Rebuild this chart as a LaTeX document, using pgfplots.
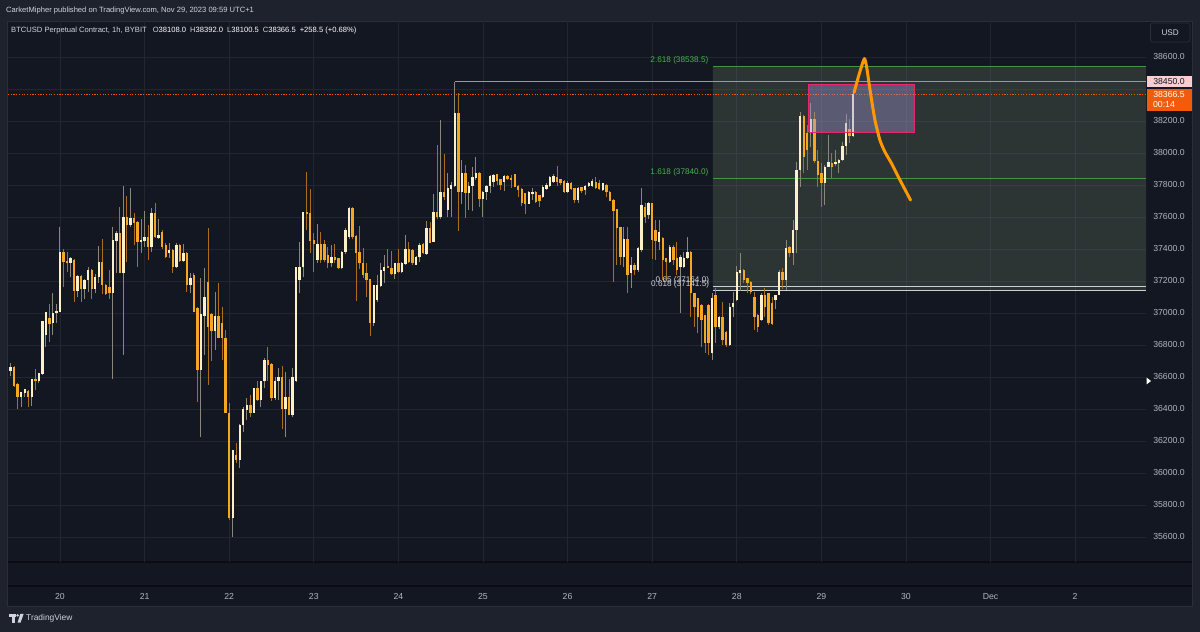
\documentclass[border=0pt]{standalone}
\usepackage{fontspec}
\setmainfont{Liberation Sans}
\usepackage{pgfplots}
\usepackage{pgfplotstable}
\pgfplotsset{compat=1.18}
\definecolor{pagebg}{RGB}{30,34,45}
\definecolor{plotbg}{RGB}{19,23,34}
\definecolor{panelborder}{RGB}{42,46,57}
\definecolor{gridcol}{RGB}{34,38,50}
\definecolor{axistext}{RGB}{178,181,190}
\definecolor{hdrtext}{RGB}{209,212,220}
\definecolor{upbody}{RGB}{252,240,200}
\definecolor{upwick}{RGB}{140,134,120}
\definecolor{dnbody}{RGB}{245,166,35}
\definecolor{dnwick}{RGB}{170,110,30}
\definecolor{fibgreen}{RGB}{76,175,80}
\definecolor{fibfill}{RGB}{119,139,106}
\definecolor{fibwhite}{RGB}{205,207,212}
\definecolor{curcol}{RGB}{242,91,12}
\definecolor{pinkfill}{RGB}{160,150,210}
\definecolor{pinkborder}{RGB}{230,40,100}
\definecolor{draworange}{RGB}{255,152,0}
\definecolor{sepcol}{RGB}{10,12,18}
\definecolor{hlinecol}{RGB}{150,152,160}
\definecolor{lbl4450}{RGB}{250,205,208}

\pgfplotstableread{
h o hi lo c
-15 36640 36652 36630 36648
-14 36640 36685 36606 36660
-13 36660 36668 36540 36546
-12 36554 36560 36398 36477
-11 36477 36504 36415 36504
-10 36502 36523 36473 36523
-9 36512 36520 36410 36477
-8 36477 36590 36419 36590
-7 36590 36650 36519 36577
-6 36577 36627 36560 36627
-5 36619 36950 36613 36950
-4 36862 37008 36790 37008
-3 36971 37056 36821 36931
-2 36935 37123 36862 37002
-1 36998 37056 36935 37015
0 37008 37540 37008 37379
1 37379 37402 37165 37319
2 37325 37383 37258 37317
3 37315 37352 37223 37342
4 37331 37340 37069 37140
5 37140 37237 37102 37231
6 37231 37235 37067 37152
7 37148 37210 37085 37206
8 37206 37290 37133 37269
9 37269 37275 37085 37148
10 37148 37244 37123 37227
11 37227 37419 37185 37319
12 37319 37460 37119 37175
13 37177 37180 37112 37119
14 37160 37269 37085 37125
15 37127 37535 36585 37456
16 37452 37512 37248 37498
17 37498 37665 37252 37252
18 37252 37793 36738 37602
19 37602 37730 37321 37550
20 37550 37781 37540 37592
21 37592 37627 37425 37560
22 37571 37575 37285 37446
23 37448 37585 37373 37456
24 37448 37640 37415 37473
25 37473 37550 37331 37415
26 37410 37654 37383 37627
27 37627 37685 37470 37477
28 37467 37585 37460 37487
29 37508 37519 37400 37415
30 37425 37435 37342 37348
31 37373 37435 37342 37394
32 37394 37400 37248 37290
33 37290 37440 37279 37425
34 37425 37431 37320 37327
35 37327 37431 37321 37373
36 37373 37380 37133 37175
37 37175 37248 37123 37216
38 37237 37250 37008 37008
39 37029 37035 36446 36644
40 36644 37217 36223 36994
41 36980 37279 36737 37100
42 37196 37530 36550 36910
43 36994 37000 36702 36890
44 36890 37133 36769 36981
45 36981 37185 36850 36842
46 36935 37035 36706 36842
47 36842 36894 36373 36373
48 36375 36435 35706 35717
49 35717 36144 35602 36144
50 36113 36185 36065 36081
51 36081 36306 36029 36300
52 36300 36410 36258 36398
53 36394 36467 36331 36425
54 36425 36488 36352 36373
55 36373 36529 36373 36529
56 36529 36577 36452 36456
57 36456 36577 36410 36577
58 36577 36717 36529 36706
59 36706 36790 36577 36675
60 36679 36685 36452 36467
61 36467 36602 36456 36577
62 36577 36658 36456 36598
63 36598 36669 36273 36398
64 36398 36633 36227 36477
65 36477 36585 36363 36363
66 36363 36654 36352 36598
67 36577 37290 36570 37290
68 37206 37446 37123 37290
69 37290 37633 37223 37633
70 37633 37883 37519 37619
71 37623 37775 37377 37452
72 37456 37498 37258 37431
73 37330 37556 37315 37431
74 37431 37508 37315 37330
75 37431 37456 37320 37331
76 37362 37415 37279 37315
77 37315 37425 37290 37352
78 37352 37429 37315 37331
79 37342 37345 37273 37279
80 37279 37390 37273 37383
81 37383 37529 37369 37519
82 37477 37665 37460 37658
83 37658 37665 37460 37477
84 37481 37485 37077 37373
85 37383 37544 37273 37315
86 37315 37404 37217 37237
87 37252 37315 37102 37206
88 37210 37215 36856 36940
89 36940 37175 36919 37175
90 37081 37237 37071 37175
91 37169 37315 37165 37269
92 37264 37362 37185 37290
93 37290 37398 37280 37285
94 37279 37390 37237 37244
95 37244 37315 37210 37310
96 37315 37398 37250 37258
97 37258 37320 37250 37310
98 37306 37487 37300 37398
99 37398 37444 37315 37321
100 37394 37400 37300 37315
101 37300 37355 37300 37352
102 37352 37435 37320 37425
103 37431 37435 37369 37373
104 37369 37577 37365 37529
105 37529 37571 37435 37435
106 37446 37744 37446 37633
107 37633 38050 37590 37598
108 37598 38206 37585 37758
109 37758 37994 37706 37723
110 37644 37877 37598 37779
111 37773 37821 37600 37800
112 37794 38446 37790 38252
113 38252 38373 37515 37758
114 37758 37956 37681 37877
115 37877 37925 37592 37752
116 37748 37821 37644 37794
117 37794 37915 37640 37848
118 37842 37973 37831 37873
119 37873 37880 37660 37710
120 37710 37760 37600 37758
121 37758 37800 37706 37794
122 37794 37860 37748 37856
123 37821 37870 37790 37862
124 37867 37871 37800 37827
125 37835 37840 37770 37800
126 37821 37862 37760 37858
127 37856 37865 37830 37835
128 37842 37862 37779 37835
129 37867 37870 37785 37790
130 37794 37800 37723 37769
131 37773 37780 37669 37685
132 37748 37750 37619 37681
133 37681 37760 37680 37758
134 37748 37779 37706 37758
135 37758 37760 37690 37696
136 37738 37740 37660 37700
137 37727 37800 37720 37790
138 37775 37810 37770 37800
139 37794 37855 37790 37852
140 37821 37867 37815 37856
141 37848 37919 37794 37821
142 37835 37840 37800 37810
143 37827 37830 37748 37758
144 37758 37825 37748 37815
145 37815 37820 37770 37773
146 37779 37782 37690 37706
147 37706 37785 37690 37779
148 37785 37790 37750 37765
149 37769 37800 37737 37794
150 37794 37820 37790 37815
151 37794 37835 37790 37827
152 37821 37848 37775 37779
153 37815 37831 37769 37773
154 37769 37815 37765 37810
155 37800 37805 37727 37758
156 37758 37765 37700 37702
157 37706 37710 37196 37640
158 37648 37650 37300 37529
159 37535 37540 37300 37352
160 37348 37535 37290 37460
161 37460 37535 37127 37237
162 37248 37352 37154 37300
163 37300 37310 37240 37269
164 37269 37415 37258 37404
165 37394 37779 37383 37675
166 37660 37690 37560 37600
167 37610 37692 37590 37685
168 37685 37690 37340 37456
169 37519 37581 37331 37452
170 37446 37581 37394 37508
171 37467 37475 37206 37331
172 37342 37345 37206 37321
173 37321 37425 37310 37415
174 37415 37425 37300 37331
175 37342 37446 37237 37269
176 37285 37362 36998 37352
177 37285 37383 37280 37342
178 37342 37477 37340 37383
179 37383 37385 36977 37123
180 37123 37125 36915 37040
181 37092 37095 36873 36977
182 37050 37055 36790 36956
183 36988 36990 36748 36810
184 37050 37055 36737 36810
185 36748 37123 36706 37092
186 37112 37154 36810 36915
187 36915 36980 36900 36977
188 36977 37071 36800 36831
189 36883 36890 36790 36800
190 36800 37060 36795 37040
191 37040 37133 36977 37060
192 37081 37294 37075 37258
193 37248 37373 37140 37269
194 37269 37275 37190 37206
195 37217 37220 37123 37185
196 37196 37200 37120 37133
197 37102 37133 36894 36977
198 36988 36995 36883 36915
199 36956 37123 36950 37112
200 37112 37154 36977 37040
201 37123 37125 36925 36935
202 37060 37102 36925 36931
203 37081 37115 37023 37112
204 37112 37269 37110 37258
205 37258 37279 37150 37206
206 37206 37456 37144 37404
207 37410 37420 37350 37373
208 37373 37581 37300 37519
209 37519 37946 37373 37894
210 37894 38258 37790 38231
211 38231 38235 37877 37977
212 38123 38175 37894 38019
213 38133 38310 38040 38210
214 38210 38258 37940 37952
215 37952 38019 37790 37862
216 37873 37935 37665 37810
217 37810 37925 37675 37915
218 37915 38112 37910 37946
219 37940 37998 37835 37915
220 37935 38019 37920 37946
221 37935 37960 37873 37956
222 37956 38071 37950 38044
223 38044 38244 37987 38185
224 38150 38215 38060 38108
225 38108 38392 38100 38366.5
}\candles

\begin{document}
\begin{tikzpicture}
\useasboundingbox (0bp,0bp) rectangle (1200bp,632bp);
\clip (0bp,0bp) rectangle (1200bp,632bp);
\begin{scope}[x=1bp,y=1bp]
% page and panel
\fill[pagebg] (0,0) rectangle (1200,632);
\fill[plotbg] (7.5,26) rectangle (1192,611);
\draw[panelborder, line width=0.8bp] (7.5,26) rectangle (1192,611);
\draw[sepcol, line width=1.6bp] (7.5,70) -- (1192,70);
\draw[sepcol, line width=1.6bp] (7.5,46) -- (1192,46);
\end{scope}

\begin{axis}[
  at={(8bp,70bp)}, anchor=south west,
  width=1138bp, height=541bp, scale only axis,
  xmin=-14.75, xmax=308.1, ymin=35443.75, ymax=38825,
  enlargelimits=false,
  scaled x ticks=false, scaled y ticks=false,
  axis line style={draw=none}, tick style={draw=none}, major tick length=0pt,
  xtick={0,24,...,288},
  xticklabels={20,21,22,23,24,25,26,27,28,29,30,Dec,2},
  ytick={35600,35800,...,38600},
  yticklabels={35600.0,35800.0,36000.0,36200.0,36400.0,36600.0,36800.0,37000.0,37200.0,37400.0,37600.0,37800.0,38000.0,38200.0,{},38600.0},
  yticklabel pos=right,
  grid=major,
  major grid style={color=gridcol, line width=0.8bp},
  tick label style={font=\fontsize{8.7bp}{10bp}\selectfont, text=axistext},
  xticklabel style={anchor=base, inner sep=0pt, yshift=-37.5bp},
  yticklabel style={anchor=center, xshift=23bp},
]
% Fib box
\addplot[fill=fibfill, fill opacity=0.25, draw=none] coordinates {(185.2,37141.5) (308.1,37141.5) (308.1,38538.5) (185.2,38538.5) (185.2,37141.5)};
\addplot[fibgreen!85!black, line width=0.9bp] coordinates {(185.2,38538.5) (308.1,38538.5)};
\addplot[fibgreen!85!black, line width=0.9bp] coordinates {(185.2,37840) (308.1,37840)};
\addplot[fibwhite, line width=0.9bp] coordinates {(185.2,37164) (308.1,37164)};
\addplot[fibwhite, line width=0.9bp] coordinates {(185.2,37141.5) (308.1,37141.5)};
% high line
\addplot[hlinecol, line width=0.9bp] coordinates {(112,38446) (308.1,38446)};
% last price dotted line
\addplot[curcol, line width=0.9bp, dash pattern=on 1.2bp off 1.5bp] coordinates {(-14.75,38366.5) (308.1,38366.5)};

% wicks
\addplot[draw=none, mark=none, error bars/.cd, y dir=both, y explicit, error mark=none,
  error bar style={draw=upwick, line width=1bp}]
  table[x=h, y expr={\thisrow{c}>=\thisrow{o} ? (\thisrow{hi}+\thisrow{lo})/2 : nan},
        y error expr={(\thisrow{hi}-\thisrow{lo})/2}] {\candles};
\addplot[draw=none, mark=none, error bars/.cd, y dir=both, y explicit, error mark=none,
  error bar style={draw=dnwick, line width=1bp}]
  table[x=h, y expr={\thisrow{c}<\thisrow{o} ? (\thisrow{hi}+\thisrow{lo})/2 : nan},
        y error expr={(\thisrow{hi}-\thisrow{lo})/2}] {\candles};
% bodies
\addplot[draw=none, mark=none, error bars/.cd, y dir=both, y explicit, error mark=none,
  error bar style={draw=upbody, line width=2.4bp}]
  table[x=h, y expr={\thisrow{c}>=\thisrow{o} ? (\thisrow{o}+\thisrow{c})/2 : nan},
        y error expr={max(abs(\thisrow{c}-\thisrow{o})/2,5)}] {\candles};
\addplot[draw=none, mark=none, error bars/.cd, y dir=both, y explicit, error mark=none,
  error bar style={draw=dnbody, line width=2.4bp}]
  table[x=h, y expr={\thisrow{c}<\thisrow{o} ? (\thisrow{o}+\thisrow{c})/2 : nan},
        y error expr={max(abs(\thisrow{c}-\thisrow{o})/2,5)}] {\candles};

% pink rectangle
\addplot[fill=pinkfill, fill opacity=0.4, draw=pinkborder, line width=1bp] coordinates {(212.4,38129) (242.4,38129) (242.4,38425) (212.4,38425) (212.4,38129)};
% hand drawn path
\addplot[draworange, line width=3bp, line cap=round, line join=round, smooth, tension=0.35] coordinates {
(225.25,38377) (226.8,38498) (228.2,38590) (228.9,38530) (229.8,38394) (231.2,38206) (232.6,38081) (234.0,38008) (235.9,37935) (238.3,37831) (241.3,37706)};

% fib labels
\node[anchor=base east, text=fibgreen, font=\fontsize{8.2bp}{9bp}\selectfont, inner sep=0pt] at (axis cs:184.0,38538.5) [yshift=4bp] {2.618 (38538.5)};
\node[anchor=base east, text=fibgreen, font=\fontsize{8.2bp}{9bp}\selectfont, inner sep=0pt] at (axis cs:184.0,37840) [yshift=4bp] {1.618 (37840.0)};
\node[anchor=base east, text=fibwhite, font=\fontsize{8.2bp}{9bp}\selectfont, inner sep=0pt] at (axis cs:184.2,37164) [yshift=4bp] {0.65 (37164.0)};
\node[anchor=base east, text=fibwhite, font=\fontsize{8.2bp}{9bp}\selectfont, inner sep=0pt] at (axis cs:184.2,37141.5) [yshift=4bp] {0.618 (37141.5)};
\end{axis}

\begin{scope}[x=1bp,y=1bp]
% header texts
\node[anchor=west, text=hdrtext, font=\fontsize{7.6bp}{9bp}\selectfont, inner sep=0pt] at (6,621) {CarketMipher published on TradingView.com, Nov 29, 2023 09:59 UTC+1};
\node[anchor=west, text=hdrtext, font=\fontsize{7.6bp}{9bp}\selectfont, inner sep=0pt] at (11,601) {BTCUSD Perpetual Contract, 1h, BYBIT\hspace{6bp}O\textcolor{white}{38108.0}\hspace{4bp}H\textcolor{white}{38392.0}\hspace{4bp}L\textcolor{white}{38100.5}\hspace{4bp}C\textcolor{white}{38366.5}\hspace{4bp}\textcolor{white}{+258.5 (+0.68\%)}};

% USD button
\draw[rounded corners=2.5bp, draw=panelborder, line width=0.8bp, fill=plotbg] (1150.5,590) rectangle (1190,609);
\node[text=hdrtext, font=\fontsize{8.2bp}{9bp}\selectfont] at (1170.2,599.5) {USD};

% right axis price boxes
\fill[lbl4450] (1147,545.3) rectangle (1192,556);
\node[text=plotbg, font=\fontsize{8.7bp}{10bp}\selectfont] at (1169,550.6) {38450.0};
\fill[curcol] (1147,521) rectangle (1192,543);
\node[text=white, font=\fontsize{8.7bp}{10bp}\selectfont] at (1169,537) {38366.5};
\node[text=white, font=\fontsize{8.7bp}{10bp}\selectfont] at (1164,527) {00:14};
% small triangle marker
\fill[white] (1146.5,247.5) -- (1151,251) -- (1146.5,254.5) -- cycle;

% TradingView logo
\fill[hdrtext] (9,15.5) rectangle (16,18);
\fill[hdrtext] (12,9.5) rectangle (14.6,18);
\fill[hdrtext] (17.6,16.6) circle (1.4);
\fill[hdrtext] (20.3,18) -- (23.6,18) -- (20.6,9.5) -- (17.6,9.5) -- cycle;
\node[anchor=west, text=hdrtext, font=\fontsize{8.4bp}{10bp}\selectfont, inner sep=0pt] at (26,13.2) {TradingView};
\end{scope}
\end{tikzpicture}
\end{document}
